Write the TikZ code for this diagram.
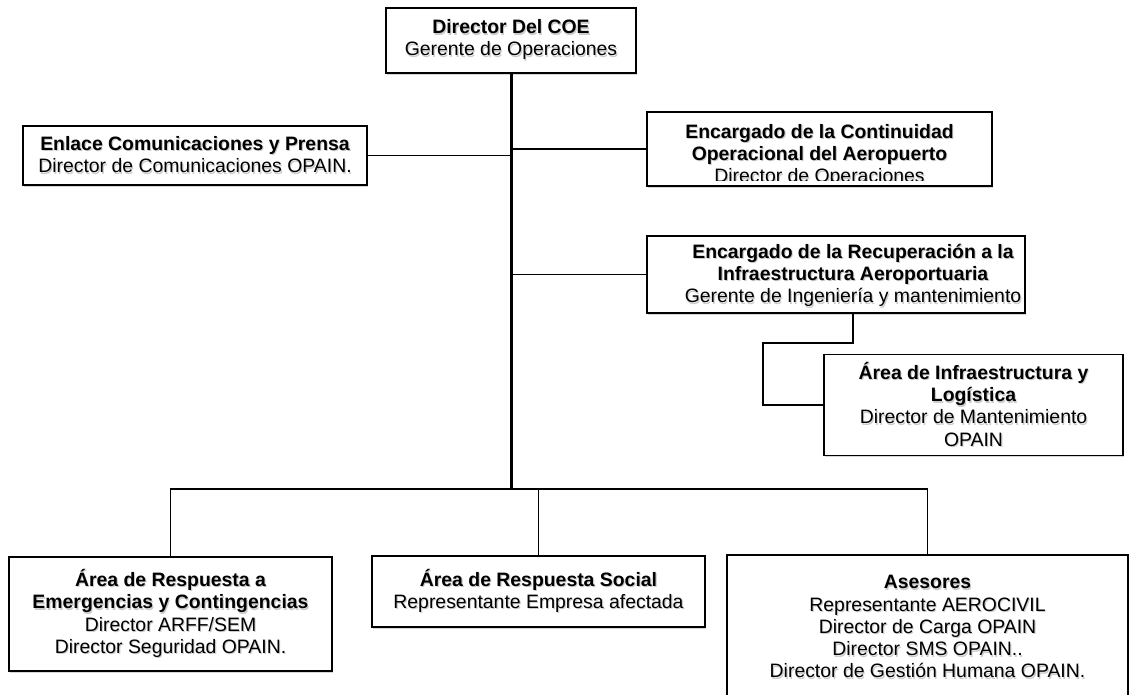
\documentclass[tikz,border=0pt]{standalone}
\usepackage{fontspec}
\setmainfont{Liberation Sans}
\usetikzlibrary{shadows}

\definecolor{shade}{gray}{0.80}
% one line of text with a soft offset shadow behind it
\newcommand{\shtxt}[1]{\leavevmode\rlap{\kern1.1pt\raisebox{-1.4pt}{\color{shade}#1}}#1}
\newcommand{\hd}[1]{\shtxt{\bfseries #1}}

\tikzset{
  card/.style={draw, line width=1.3pt, fill=white, inner sep=0pt, outer sep=0pt,
    drop shadow={shadow xshift=1.3pt, shadow yshift=-1.6pt, fill=black, opacity=0.16}},
  words/.style={align=center, inner sep=0pt, outer sep=0pt,
    font=\fontsize{19.4}{22.3}\selectfont},
  link/.style={line width=1.3pt},
  trunk/.style={line width=3pt}
}

\begin{document}
\begin{tikzpicture}[x=1pt, y=-1pt]
\useasboundingbox (0,0) rectangle (1130,694);
\fill[white] (0,0) rectangle (1130,694);
\clip (0,0) rectangle (1130,694);

% boxes
\node[card, words, minimum width=250pt, minimum height=65pt] (top) at (511,40.5)
  {\hd{Director Del COE}\\ \shtxt{Gerente de Operaciones}};

\node[card, words, minimum width=344pt, minimum height=59pt] (enl) at (195,155.5)
  {\hd{Enlace Comunicaciones y Prensa}\\ \shtxt{Director de Comunicaciones OPAIN.}};

\node[card, minimum width=345pt, minimum height=74pt] (cont) at (819.5,149) {};
\begin{scope}
  \clip (cont.north west) rectangle ([yshift=6pt]cont.south east);
  \node[words] (contt) at (819.5,156)
    {\hd{Encargado de la Continuidad}\\ \hd{Operacional del Aeropuerto}\\ \shtxt{Director de Operaciones}};
\end{scope}

\node[card, minimum width=378pt, minimum height=77pt] (rec) at (836,274.5) {};
\begin{scope}
  \clip (rec.north west) rectangle ([xshift=-2pt]rec.south east);
  \node[words] (rect) at (853,276)
    {\hd{Encargado de la Recuperación a la}\\ \hd{Infraestructura Aeroportuaria}\\ \shtxt{Gerente de Ingeniería y mantenimiento}};
\end{scope}

\node[card, words, minimum width=299pt, minimum height=101pt] (infra) at (973.5,405)
  {\hd{Área de Infraestructura y}\\ \hd{Logística}\\ \shtxt{Director de Mantenimiento}\\ \shtxt{OPAIN}};

\node[card, words, minimum width=323pt, minimum height=114pt] (resp) at (170.5,614)
  {\hd{Área de Respuesta a}\\ \hd{Emergencias y Contingencias}\\ \shtxt{Director ARFF/SEM}\\ \shtxt{Director Seguridad OPAIN.}};

\node[card, words, minimum width=333pt, minimum height=71pt] (soc) at (538.5,591.5)
  {\hd{Área de Respuesta Social}\\ \shtxt{Representante Empresa afectada}};

\node[card, words, minimum width=401pt, minimum height=145pt] (ases) at (927.5,627.5)
  {\hd{Asesores}\\ \shtxt{Representante AEROCIVIL}\\ \shtxt{Director de Carga OPAIN}\\ \shtxt{Director SMS OPAIN..}\\ \shtxt{Director de Gestión Humana OPAIN.}};

% connectors
\coordinate (hub) at (511,489);
\coordinate (rb) at (rect.center |- rec.south);
\coordinate (elbow) at (763,343);

\draw[trunk] (top.south) -- (hub);
\draw[link] (enl.east) -- (enl.east -| hub);
\draw[link] (cont.west) -- (cont.west -| hub);
\draw[link] (rec.west) -- (rec.west -| hub);
\draw[link] (rb) |- (elbow) |- (infra.west);
\draw[link] (resp.north) |- (ases.north |- hub) -- (ases.north);
\draw[link] (soc.north) -- (soc.north |- hub);
\end{tikzpicture}
\end{document}
